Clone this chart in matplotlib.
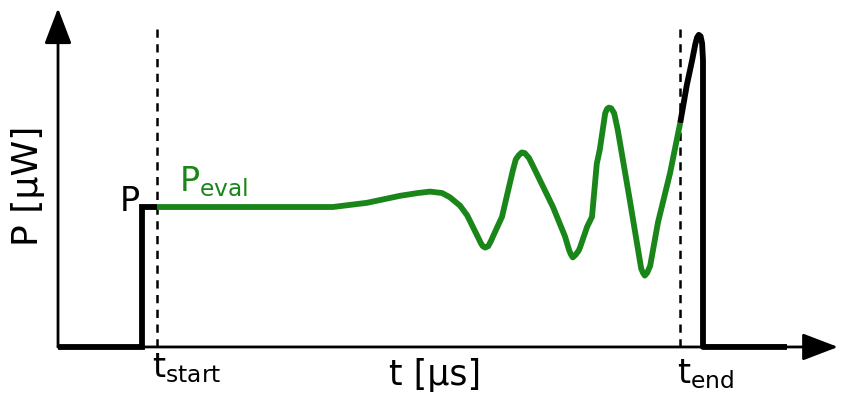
#!/usr/bin/env python3
"""
Schematic of a power pulse P(t) with the evaluated window between t_start and t_end
"""
import matplotlib.pyplot as plt

plt.rcParams['font.family'] = ['DejaVu Sans']
plt.rcParams['mathtext.default'] = 'regular'

# Time axis [us] and power levels [uW] (arbitrary units, schematic)
T_START = 16.5
T_END = 103.7
T_MAX = 130.0
P_MAX = 2.42
P_DASH_TOP = 2.31

# Black pulse: off, switched on to P at t_start
rise_t = [0.0, 14.0, 14.0, 16.5]
rise_p = [0.0, 0.0, 1.0, 1.0]

# Evaluated power inside the window
eval_t = [16.5, 45.8, 51.5, 57.0, 60.0, 62.0, 64.0, 65.3, 67.0, 68.2, 69.7,
          70.5, 70.8, 71.2, 71.7, 72.2, 72.5, 74.0, 75.8, 76.3, 76.8, 77.3,
          77.8, 78.5, 79.2, 82.5, 84.5, 85.2, 85.5, 85.8, 86.3, 86.8, 87.0,
          88.2, 89.0, 89.8, 90.3, 91.2, 91.5, 91.8, 92.2, 92.7, 93.3, 95.3,
          97.2, 97.5, 97.8, 98.2, 98.7, 100.0, 102.0, 103.7]
eval_p = [1.00, 1.00, 1.03, 1.08, 1.10, 1.11, 1.10, 1.07, 1.01, 0.94, 0.81,
          0.74, 0.72, 0.71, 0.72, 0.76, 0.79, 0.93, 1.26, 1.34, 1.37, 1.39,
          1.385, 1.35, 1.29, 1.00, 0.79, 0.69, 0.66, 0.64, 0.66, 0.69, 0.71,
          0.86, 0.93, 1.31, 1.41, 1.67, 1.70, 1.71, 1.705, 1.67, 1.55, 1.05,
          0.56, 0.53, 0.51, 0.53, 0.58, 0.89, 1.24, 1.60]

# Black overshoot after t_end and switch off
fall_t = [103.7, 104.8, 105.7, 106.2, 106.5, 106.8, 107.1, 107.35, 107.5,
          107.5, 121.5]
fall_p = [1.60, 1.87, 2.05, 2.16, 2.21, 2.23, 2.22, 2.17, 2.05, 0.0, 0.0]

GREEN = '#1a861a'
LW = 4.2

fig = plt.figure(figsize=(8.42, 3.94), dpi=100)
ax = fig.add_axes([0, 0, 1, 1])
ax.set_xlim(-9.67, 130.67)
ax.set_ylim(-0.336, 2.479)
ax.axis('off')

# Axes with arrow heads
arrow = dict(arrowstyle='-|>,head_length=1.1,head_width=0.42', lw=2.0,
             color='black', mutation_scale=20, shrinkA=0, shrinkB=0)
ax.annotate('', xy=(T_MAX, 0), xytext=(0, 0), arrowprops=arrow)
ax.annotate('', xy=(0, P_MAX), xytext=(0, 0), arrowprops=arrow)

# Window boundaries
for t in (T_START, T_END):
    ax.plot([t, t], [0, P_DASH_TOP], color='black', lw=1.8, dashes=(3.3, 2.6))

ax.plot(rise_t, rise_p, color='black', lw=LW, solid_joinstyle='miter',
        solid_capstyle='butt')
ax.plot(fall_t, fall_p, color='black', lw=LW, solid_joinstyle='round',
        solid_capstyle='butt')
ax.plot(eval_t, eval_p, color=GREEN, lw=LW, solid_joinstyle='round',
        solid_capstyle='butt')

# Labels
ax.text(-5.0, 1.15, 'P [µW]', rotation=90, ha='center', va='center',
        fontsize=26)
ax.text(62.8, -0.27, 't [µs]', ha='center', va='baseline', fontsize=25)
ax.text(13.6, 0.97, 'P', ha='right', va='baseline', fontsize=24)
ax.text(20.2, 1.11, r'$P_{eval}$', ha='left', va='baseline', fontsize=24,
        color=GREEN)
ax.text(15.7, -0.22, r'$t_{start}$', ha='left', va='baseline', fontsize=24)
ax.text(103.2, -0.26, r'$t_{end}$', ha='left', va='baseline', fontsize=24)

fig.savefig('out.png', dpi=100)
